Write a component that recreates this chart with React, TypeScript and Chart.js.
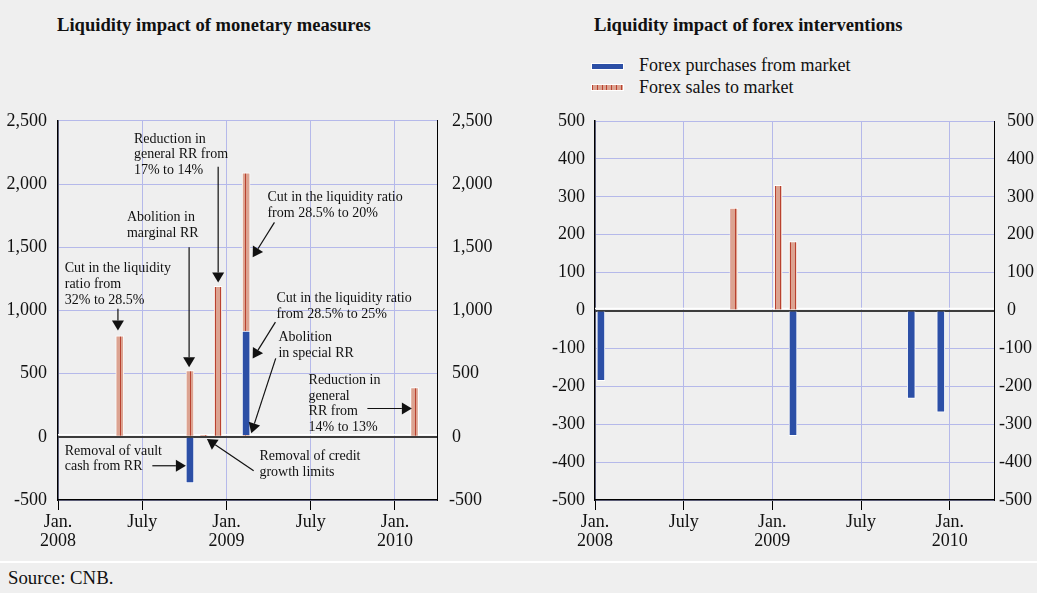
import React, { useEffect, useRef } from 'react';
import { Chart, registerables } from 'chart.js';
Chart.register(...registerables);

const FONT = '"Liberation Serif", "Times New Roman", serif';
const TEXT = '#111';
const GRID = '#b5b9ea';
const ZERO = '#3c3c3c';
const BLUE = '#2c4fa6';
const PINK = '#dca391';
const STRIPE = '#b9412f';
const BG = '#efefef';

// ---------- data ----------
const monetaryMonths = ['2008-05', '2008-10', '2008-11', '2008-12', '2009-02', '2010-02'];
const monetaryRed = [800, 525, 15, 1190, 12, 390];
const monetaryBlue = [null, -365, null, null, 825, null];
const monetaryRedTop = [null, null, null, null, 1253, null];

const forexMonths = ['2008-01', '2008-10', '2009-01', '2009-02', '2009-10', '2009-12'];
const forexPurchases = [-185, null, null, -330, -232, -268];
const forexSales = [null, 270, 330, 182, null, null];

const monetaryRange = [-500, 2500, 500];
const forexRange = [-500, 500, 100];

const xTickLabels: Record<number, string[]> = {
  0: ['Jan.', '2008'],
  6: ['July'],
  12: ['Jan.', '2009'],
  18: ['July'],
  24: ['Jan.', '2010'],
};

// annotations on the monetary chart: text [x(month), y(value), lines], arrows [x1,y1,x2,y2]
const noteTexts: [number, number, string[]][] = [
  [0.48, 1332, ['Cut in the liquidity', 'ratio from', '32% to 28.5%']],
  [4.91, 1735, ['Abolition in', 'marginal RR']],
  [5.41, 2358, ['Reduction in', 'general RR from', '17% to 14%']],
  [14.92, 1892, ['Cut in the liquidity ratio', 'from 28.5% to 20%']],
  [15.56, 1095, ['Cut in the liquidity ratio', 'from 28.5% to 25%']],
  [15.7, 785, ['Abolition', 'in special RR']],
  [17.85, 448, ['Reduction in', 'general', 'RR from', '14% to 13%']],
  [0.48, -111, ['Removal of vault', 'cash from RR']],
  [14.35, -158, ['Removal of credit', 'growth limits']],
];
const noteArrows: [number, number, number, number][] = [
  [4.27, 1014, 4.27, 842],
  [9.34, 1500, 9.34, 550],
  [11.41, 2137, 11.41, 1221],
  [15.42, 1697, 13.87, 1421],
  [15.49, 908, 13.87, 619],
  [15.51, 621, 13.77, 29],
  [22.04, 224, 25.21, 224],
  [6.72, -229, 9.11, -229],
  [13.94, -268, 10.61, -18],
];

const monthPos = (s: string) => {
  const [y, m] = s.split('-').map(Number);
  return (y - 2008) * 12 + (m - 1) + 0.4;
};
const pts = (months: string[], vals: (number | null)[]) =>
  months.map((m, i) => ({ x: monthPos(m), y: vals[i] })).filter((p) => p.y !== null);

const fmt = (v: any) => Number(v).toLocaleString('en-US');

function makeHatch(): CanvasPattern | string {
  const c = document.createElement('canvas');
  c.width = 5;
  c.height = 4;
  const g = c.getContext('2d');
  if (!g) return PINK;
  g.fillStyle = PINK;
  g.fillRect(0, 0, 5, 4);
  g.fillStyle = STRIPE;
  g.fillRect(0, 0, 1, 4);
  const p = g.createPattern(c, 'repeat');
  return p || PINK;
}

function drawArrow(ctx: CanvasRenderingContext2D, x1: number, y1: number, x2: number, y2: number) {
  const a = Math.atan2(y2 - y1, x2 - x1);
  const L = 10;
  const W = 6;
  const bx = x2 - L * Math.cos(a);
  const by = y2 - L * Math.sin(a);
  ctx.beginPath();
  ctx.moveTo(x1, y1);
  ctx.lineTo(bx, by);
  ctx.stroke();
  ctx.beginPath();
  ctx.moveTo(x2, y2);
  ctx.lineTo(bx - W * Math.sin(a), by + W * Math.cos(a));
  ctx.lineTo(bx + W * Math.sin(a), by - W * Math.cos(a));
  ctx.closePath();
  ctx.fill();
}

const notesPlugin = {
  id: 'notes',
  afterDraw(chart: any) {
    const { ctx } = chart;
    const xs = chart.scales.x;
    const ys = chart.scales.y;
    ctx.save();
    ctx.fillStyle = TEXT;
    ctx.strokeStyle = TEXT;
    ctx.lineWidth = 1.2;
    ctx.font = `14px ${FONT}`;
    ctx.textAlign = 'left';
    ctx.textBaseline = 'middle';
    noteTexts.forEach(([x, y, lines]) => {
      const px = xs.getPixelForValue(x);
      const py = ys.getPixelForValue(y);
      lines.forEach((t, i) => ctx.fillText(t, px, py + i * 15.7));
    });
    noteArrows.forEach(([x1, y1, x2, y2]) => {
      drawArrow(ctx, xs.getPixelForValue(x1), ys.getPixelForValue(y1), xs.getPixelForValue(x2), ys.getPixelForValue(y2));
    });
    ctx.restore();
  },
};

// right-hand axis labels: digits left-aligned, minus sign hanging to the left
const makeRightLabels = (gap: number, hang: number) => ({
  id: 'rightLabels',
  beforeDatasetsDraw(chart: any) {
    const { ctx, chartArea } = chart;
    const ys = chart.scales.y;
    const zy = ys.getPixelForValue(0);
    ctx.save();
    ctx.strokeStyle = '#ffffff';
    ctx.lineWidth = 1.5;
    ctx.beginPath();
    ctx.moveTo(chartArea.left, zy - 2);
    ctx.lineTo(chartArea.right, zy - 2);
    ctx.stroke();
    ctx.restore();
  },
  afterDraw(chart: any) {
    const { ctx, chartArea } = chart;
    const ys = chart.scales.y2;
    ctx.save();
    ctx.fillStyle = TEXT;
    ctx.font = `18px ${FONT}`;
    ctx.textAlign = 'left';
    ctx.textBaseline = 'middle';
    ys.ticks.forEach((t: any) => {
      const y = ys.getPixelForValue(t.value);
      const x = chartArea.right + gap - (t.value < 0 ? hang : 0);
      ctx.fillText(fmt(t.value), x, y);
    });
    ctx.restore();
  },
});

function buildOptions(cfg: {
  range: number[];
  leftW: number;
  rightW: number;
  padTop: number;
  xH: number;
  lPad: number;
}) {
  const [min, max, step] = cfg.range;
  const tickFont = { family: FONT, size: 18, lineHeight: 1.1 };
  return {
    responsive: false,
    animation: false,
    events: [],
    layout: { padding: { top: cfg.padTop, left: 0, right: 0, bottom: 0 } },
    plugins: { legend: { display: false }, tooltip: { enabled: false }, title: { display: false } },
    datasets: { bar: { barThickness: 8, borderWidth: 1, borderColor: '#ffffff' } },
    scales: {
      x: {
        type: 'linear',
        min: 0,
        max: 27,
        offset: false,
        stacked: true,
        grid: { offset: false, color: GRID, tickColor: '#000', tickLength: 10, drawTicks: true, lineWidth: 1 },
        border: { display: true, color: '#000', width: 1.5 },
        ticks: {
          stepSize: 6,
          includeBounds: false,
          autoSkip: false,
          maxRotation: 0,
          minRotation: 0,
          padding: 2,
          color: TEXT,
          font: tickFont,
          callback: (v: any) => xTickLabels[Number(v)] ?? '',
        },
        afterFit: (s: any) => {
          s.height = cfg.xH;
        },
      },
      y: {
        type: 'linear',
        position: 'left',
        min,
        max,
        stacked: true,
        grid: {
          drawTicks: false,
          color: (c: any) => (c.tick && c.tick.value === 0 ? ZERO : GRID),
          lineWidth: (c: any) => (c.tick && c.tick.value === 0 ? 2 : 1),
        },
        border: { display: true, color: '#000', width: 1.5 },
        ticks: { stepSize: step, padding: cfg.lPad, color: TEXT, font: tickFont, callback: fmt },
        afterFit: (s: any) => {
          s.width = cfg.leftW;
        },
      },
      y2: {
        type: 'linear',
        position: 'right',
        min,
        max,
        grid: { drawOnChartArea: false, drawTicks: false },
        border: { display: true, color: '#000', width: 1 },
        ticks: { stepSize: step, display: false },
        afterFit: (s: any) => {
          s.width = cfg.rightW;
        },
      },
    },
  };
}

function MonetaryChart() {
  const ref = useRef<HTMLCanvasElement>(null);
  useEffect(() => {
    if (!ref.current) return;
    const hatch = makeHatch();
    const chart = new Chart(ref.current, {
      type: 'bar',
      data: {
        datasets: [
          { label: 'Red', data: pts(monetaryMonths, monetaryRed), backgroundColor: hatch },
          { label: 'Blue', data: pts(monetaryMonths, monetaryBlue), backgroundColor: BLUE },
          { label: 'RedTop', data: pts(monetaryMonths, monetaryRedTop), backgroundColor: hatch },
        ],
      } as any,
      options: buildOptions({ range: monetaryRange, leftW: 58, rightW: 63, padTop: 20, xH: 60, lPad: 11 }) as any,
      plugins: [notesPlugin, makeRightLabels(15, 3)],
    });
    return () => chart.destroy();
  }, []);
  return <canvas ref={ref} width={500} height={460} style={{ display: 'block' }} />;
}

function ForexChart() {
  const ref = useRef<HTMLCanvasElement>(null);
  useEffect(() => {
    if (!ref.current) return;
    const hatch = makeHatch();
    const chart = new Chart(ref.current, {
      type: 'bar',
      data: {
        datasets: [
          { label: 'Forex purchases from market', data: pts(forexMonths, forexPurchases), backgroundColor: BLUE },
          { label: 'Forex sales to market', data: pts(forexMonths, forexSales), backgroundColor: hatch },
        ],
      } as any,
      options: buildOptions({ range: forexRange, leftW: 55, rightW: 43, padTop: 21, xH: 60, lPad: 10 }) as any,
      plugins: [makeRightLabels(13, 8)],
    });
    return () => chart.destroy();
  }, []);
  return <canvas ref={ref} width={497} height={460} style={{ display: 'block' }} />;
}

export default function App() {
  const abs = (s: React.CSSProperties): React.CSSProperties => ({ position: 'absolute', ...s });
  return (
    <div
      style={{
        position: 'fixed',
        left: 0,
        top: 0,
        width: 1037,
        height: 593,
        background: BG,
        fontFamily: FONT,
        color: TEXT,
        overflow: 'hidden',
      }}
    >
      <div style={abs({ left: 57, top: 14, fontSize: 18.6, fontWeight: 'bold', whiteSpace: 'nowrap', lineHeight: '22px' })}>
        Liquidity impact of monetary measures
      </div>
      <div style={abs({ left: 594, top: 14, fontSize: 18.6, fontWeight: 'bold', whiteSpace: 'nowrap', lineHeight: '22px' })}>
        Liquidity impact of forex interventions
      </div>
      <div style={abs({ left: 591, top: 63, width: 31, height: 5, background: BLUE, border: '1px solid #fff' })} />
      <div style={abs({ left: 639, top: 54, fontSize: 18, lineHeight: '22px', whiteSpace: 'nowrap' })}>
        Forex purchases from market
      </div>
      <div
        style={abs({
          left: 591,
          top: 84,
          width: 31,
          height: 5,
          border: '1px solid #fff',
          background: `repeating-linear-gradient(90deg, ${STRIPE} 0px, ${STRIPE} 1px, ${PINK} 1px, ${PINK} 4.8px)`,
        })}
      />
      <div style={abs({ left: 639, top: 76, fontSize: 18, lineHeight: '22px', whiteSpace: 'nowrap' })}>
        Forex sales to market
      </div>
      <div style={abs({ left: 0, top: 100 })}>
        <MonetaryChart />
      </div>
      <div style={abs({ left: 540, top: 100 })}>
        <ForexChart />
      </div>
      <div style={abs({ left: 0, top: 561, width: 1037, height: 2, background: '#fff' })} />
      <div style={abs({ left: 8, top: 567, fontSize: 18.8, lineHeight: '22px', whiteSpace: 'nowrap' })}>Source: CNB.</div>
    </div>
  );
}
